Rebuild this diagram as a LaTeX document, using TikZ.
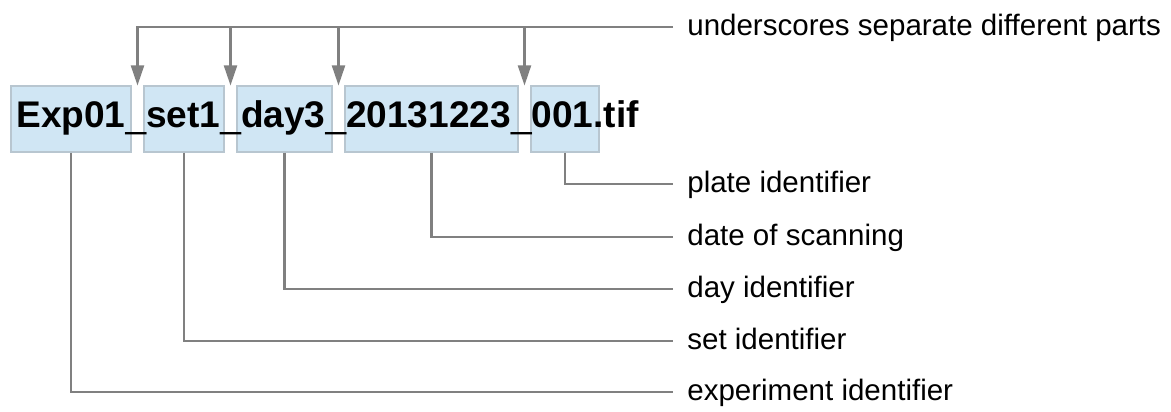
\documentclass[tikz,border=0pt]{standalone}
\usepackage{fontspec}
\setmainfont{Liberation Sans}
\usetikzlibrary{positioning, calc, arrows.meta}
\definecolor{Line}{HTML}{808080}
\definecolor{Box}{HTML}{D0E6F4}
\definecolor{BoxEdge}{HTML}{B8C6D0}
\definecolor{Dark}{HTML}{000000}
\newcommand{\usep}{{\mdseries\_}}
\tikzset{
    partbox/.style={rectangle, fill=Box, draw=BoxEdge, line width=0.6pt, minimum height=1.32cm, inner sep=0pt},
    tag/.style={anchor=west, inner xsep=0.28cm, inner ysep=0pt, text height=0.42cm, text depth=0.08cm, font=\fontsize{16.8}{20}\selectfont, text=Dark},
    link/.style={Line, line width=1.2pt},
    arrow/.style={-{Triangle[length=0.4cm, width=0.26cm]}, Line, line width=1.2pt},
}

\begin{document}
\begin{tikzpicture}[x=0.02cm, y=-0.02cm]
    \useasboundingbox (0,0) rectangle (1171,412);

    % Caselle delle parti
    \node[partbox, minimum width=2.4cm]  (exp)   at (71,119)    {};
    \node[partbox, minimum width=1.6cm]  (set)   at (184,119)   {};
    \node[partbox, minimum width=1.9cm]  (day)   at (284.5,119) {};
    \node[partbox, minimum width=3.46cm] (date)  at (431.5,119) {};
    \node[partbox, minimum width=1.36cm] (plate) at (565,119)   {};

    % Nome del file
    \node[anchor=base west, inner sep=0pt, font=\bfseries\fontsize{21.1}{25}\selectfont] (fname) at (16,128)
        {Exp01\usep set1\usep day3\usep 20131223\usep 001.tif};

    % Etichette
    \node[tag] (tunder) at (673,27)  {underscores separate different parts};
    \node[tag] (tplate) at (673,184) {plate identifier};
    \node[tag] (tdate)  at (673,237) {date of scanning};
    \node[tag] (tday)   at (673,289) {day identifier};
    \node[tag] (tset)   at (673,341) {set identifier};
    \node[tag] (texp)   at (673,392) {experiment identifier};

    % Trattini bassi
    \coordinate (g1) at ($(exp.north east)!0.5!(set.north west)$);
    \coordinate (g2) at ($(set.north east)!0.5!(day.north west)$);
    \coordinate (g3) at ($(day.north east)!0.5!(date.north west)$);
    \coordinate (g4) at ($(date.north east)!0.5!(plate.north west)$);
    \draw[arrow] (tunder.west) -| (g1);
    \foreach \g in {g2,g3,g4}
        \draw[arrow] (\g |- tunder.west) -- (\g);

    % Collegamenti parti-etichette
    \draw[link] (plate.south) |- (tplate.west);
    \draw[link] (date.south)  |- (tdate.west);
    \draw[link] (day.south)   |- (tday.west);
    \draw[link] (set.south)   |- (tset.west);
    \draw[link] (exp.south)   |- (texp.west);
\end{tikzpicture}
\end{document}
